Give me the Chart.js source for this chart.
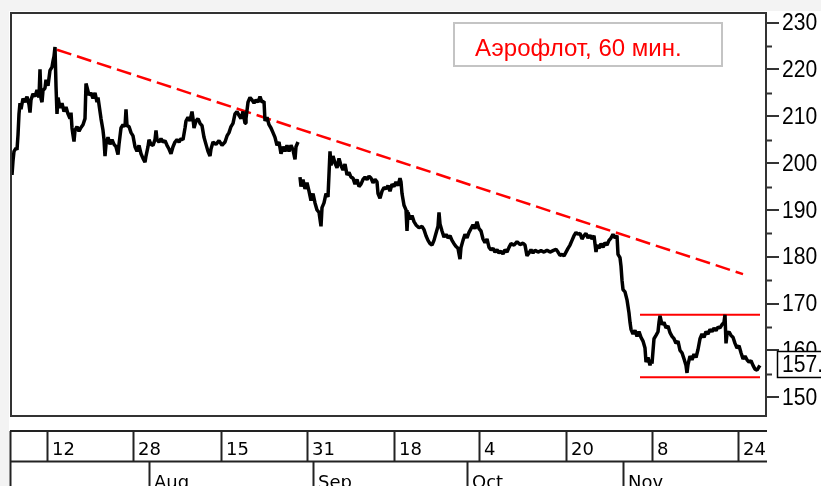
<!DOCTYPE html>
<html>
<head>
<meta charset="utf-8">
<title>Аэрофлот, 60 мин.</title>
<script src="https://cdn.jsdelivr.net/npm/chart.js@4.4.1/dist/chart.umd.min.js"></script>
<style>
  html, body { margin: 0; padding: 0; background: #fff; }
  #wrap { position: relative; width: 821px; height: 486px; }
</style>
</head>
<body>
<div id="wrap"><canvas id="chart" width="821" height="486"></canvas></div>
<script>
const chartTitle = "Аэрофлот, 60 мин.";

// [bar index, price]; null marks the gap in the bars
const priceBars = [
  [0, 198.5], [1, 197.5], [2, 200.5], [3, 202.5], [5, 203.2], [6, 202.8], [7, 206.0], [8, 210.5],
  [9, 212.8], [10, 211.5], [12, 213.8], [14, 213.0], [16, 214.2], [18, 212.5], [19, 210.8], [20, 213.5],
  [22, 214.8], [24, 214.2], [26, 215.6], [28, 214.0], [29, 220.0], [30, 213.8], [31, 213.0], [32, 215.5],
  [34, 216.0], [35, 217.8], [37, 216.5], [39, 219.8], [41, 220.5], [42, 221.8], [43, 222.8], [44, 224.8],
  [45, 216.5], [46, 210.5], [47, 214.0], [49, 211.8], [51, 212.8], [53, 211.0], [55, 212.0], [57, 210.5],
  [59, 209.5], [60, 210.8], [61, 207.5], [62, 206.0], [63, 204.6], [64, 207.0], [66, 207.8], [68, 206.8],
  [70, 207.6], [72, 208.2], [74, 209.5], [75, 217.0], [76, 216.2], [78, 214.5], [80, 215.0], [82, 213.8],
  [84, 215.0], [86, 213.0], [87, 214.0], [89, 211.0], [90, 209.5], [92, 207.0], [93, 205.0], [94, 201.5],
  [95, 204.0], [97, 205.5], [99, 204.0], [101, 205.0], [103, 204.0], [105, 203.5], [107, 201.8], [108, 204.0],
  [110, 207.5], [112, 208.2], [114, 207.8], [115, 211.5], [116, 208.0], [118, 207.8], [120, 206.5], [122, 205.8],
  [124, 203.5], [126, 202.5], [128, 203.8], [130, 202.0], [132, 201.0], [134, 200.2], [135, 201.5], [137, 203.5],
  [138, 205.0], [140, 204.0], [142, 203.8], [144, 205.0], [145, 207.0], [146, 205.0], [148, 204.5], [150, 205.2],
  [152, 204.5], [154, 204.8], [156, 203.8], [158, 203.0], [160, 202.0], [162, 203.5], [164, 204.5], [166, 205.0],
  [168, 204.5], [170, 205.2], [172, 205.0], [174, 207.5], [175, 209.0], [177, 209.8], [179, 209.0], [181, 211.0],
  [182, 209.5], [183, 207.5], [185, 209.0], [187, 209.5], [189, 208.5], [191, 208.0], [193, 205.5], [195, 204.0],
  [197, 202.5], [199, 201.5], [200, 203.0], [202, 204.5], [205, 204.0], [208, 204.8], [211, 203.8], [214, 204.5],
  [216, 205.8], [218, 206.5], [220, 207.8], [222, 208.5], [224, 210.5], [226, 211.0], [228, 210.2], [230, 209.5],
  [232, 211.0], [234, 208.5], [235, 209.5], [237, 213.0], [239, 214.0], [241, 213.5], [243, 212.8], [245, 213.5],
  [247, 213.0], [249, 214.2], [251, 213.0], [253, 213.2], [254, 209.0], [256, 209.8], [258, 208.2], [260, 207.5],
  [262, 206.5], [264, 205.5], [266, 203.8], [268, 204.5], [270, 202.0], [272, 203.5], [274, 202.5], [276, 203.8],
  [278, 202.5], [280, 203.8], [282, 202.8], [284, 200.8], [285, 203.5], [287, 204.5], [288, null],
  [289, 197.0], [290, 195.0], [292, 196.5], [294, 194.5], [296, 195.8], [298, 194.0], [300, 192.0], [302, 193.5],
  [304, 191.5], [306, 190.0], [308, 189.5], [310, 186.5], [311, 190.5], [313, 191.5], [315, 193.5], [317, 192.8],
  [319, 202.5], [320, 199.5], [322, 201.5], [324, 200.0], [326, 199.0], [328, 201.0], [330, 199.5], [332, 198.5],
  [334, 199.8], [336, 197.5], [338, 198.0], [340, 197.0], [342, 196.8], [344, 195.5], [346, 196.5], [348, 195.0],
  [350, 195.5], [352, 196.5], [354, 197.0], [356, 196.5], [358, 197.2], [360, 196.8], [362, 195.8], [364, 196.5],
  [366, 196.0], [367, 193.5], [369, 192.5], [371, 194.0], [373, 194.8], [375, 194.5], [377, 195.2], [379, 194.0],
  [381, 195.5], [383, 195.0], [385, 196.0], [387, 195.2], [389, 196.8], [390, 196.0], [391, 193.5], [393, 191.0],
  [395, 190.0], [396, 185.5], [397, 189.5], [399, 188.0], [401, 188.8], [403, 187.5], [405, 186.8], [408, 186.2],
  [411, 186.5], [413, 185.8], [415, 184.5], [417, 183.5], [419, 182.8], [421, 182.5], [423, 183.5], [425, 185.0],
  [427, 186.5], [428, 189.5], [429, 187.0], [431, 185.5], [433, 184.2], [435, 184.8], [437, 184.0], [439, 184.5],
  [441, 183.5], [443, 182.8], [445, 182.2], [447, 181.8], [449, 179.5], [450, 182.0], [452, 183.5], [454, 184.8],
  [456, 184.0], [458, 185.2], [460, 186.0], [462, 186.8], [464, 186.0], [466, 187.5], [468, 186.0], [470, 185.5],
  [472, 183.8], [474, 183.0], [476, 183.8], [478, 182.0], [480, 181.5], [482, 181.8], [484, 181.0], [486, 181.5],
  [488, 180.8], [490, 181.2], [492, 180.6], [494, 181.5], [496, 181.0], [498, 182.0], [500, 182.8], [503, 182.5],
  [506, 183.2], [509, 182.6], [512, 182.9], [514, 182.5], [516, 180.2], [518, 180.8], [520, 181.5], [522, 180.8],
  [524, 181.4], [527, 181.0], [530, 181.3], [533, 181.0], [536, 181.4], [539, 181.0], [542, 181.3], [545, 181.6],
  [547, 181.0], [549, 180.3], [551, 180.5], [553, 180.2], [555, 181.0], [557, 181.8], [559, 182.5], [561, 183.5],
  [563, 184.5], [565, 185.2], [567, 184.8], [569, 185.0], [571, 183.8], [573, 184.5], [575, 185.0], [577, 184.0],
  [579, 184.6], [581, 183.8], [583, 184.5], [585, 181.0], [586, 182.5], [588, 181.8], [590, 182.8], [592, 182.0],
  [594, 183.0], [596, 182.5], [598, 183.5], [600, 184.0], [602, 184.8], [604, 184.0], [606, 184.5], [607, 180.5],
  [609, 179.8], [610, 178.0], [611, 175.0], [612, 173.0], [614, 172.5], [616, 170.8], [618, 168.0], [619, 166.0],
  [620, 164.5], [622, 163.5], [624, 164.3], [626, 163.0], [628, 164.0], [630, 162.8], [632, 162.0], [634, 160.5],
  [635, 157.5], [637, 158.5], [639, 156.8], [640, 158.0], [641, 157.2], [643, 162.5], [645, 163.2], [647, 164.0],
  [648, 166.0], [649, 167.4], [651, 165.5], [653, 166.0], [655, 164.8], [657, 165.2], [659, 163.8], [661, 163.0],
  [663, 162.5], [665, 161.5], [667, 162.0], [669, 160.0], [671, 159.5], [673, 158.2], [675, 156.8], [676, 155.2],
  [677, 157.0], [679, 158.8], [681, 158.0], [683, 159.2], [685, 158.5], [687, 160.2], [689, 162.5], [691, 163.5],
  [693, 162.8], [695, 164.0], [697, 163.5], [699, 164.5], [701, 164.0], [703, 164.8], [705, 164.2], [707, 165.0],
  [709, 164.8], [711, 165.5], [713, 166.0], [714, 167.6], [715, 161.5], [716, 163.5], [718, 164.0], [720, 163.2],
  [722, 162.8], [724, 161.5], [726, 160.5], [728, 161.0], [730, 159.5], [732, 158.2], [734, 158.8], [736, 158.0],
  [738, 157.5], [740, 157.8], [742, 156.8], [744, 156.0], [746, 155.8], [748, 156.5], [749, 156.8]
];

const trendLine = [[46, 224.2], [732, 176.3]];
const rangeX = [629, 749];
const rangeTop = 167.6;
const rangeBottom = 154.3;
const lastPrice = 157.0;

const dateLabels = ["12", "28", "15", "31", "18", "4", "20", "8", "24"];
const dateBreaks = [36, 122, 210, 296, 383, 468, 555, 641, 727];
const monthLabels = ["Aug", "Sep", "Oct", "Nov"];
const monthBreaks = [138, 302, 456, 612];

const toPoints = (pairs) => pairs.map(([x, y]) => ({ x: x, y: y }));

const axisFont = "24px 'Liberation Sans', Arial, sans-serif";

// narrow text like the original axis font
function narrowText(ctx, text, x, y) {
  ctx.save();
  ctx.translate(x, y);
  ctx.scale(0.88, 1);
  ctx.fillText(text, 0, 0);
  ctx.restore();
}

const chartDecor = {
  id: "chartDecor",
  beforeDraw(chart) {
    const ctx = chart.ctx;
    ctx.save();
    ctx.fillStyle = "#fff";
    ctx.fillRect(0, 0, chart.width, chart.height);
    ctx.fillStyle = "#f3f3f3";
    ctx.fillRect(0, 0, chart.width, 11);
    ctx.fillRect(0, 0, 9, chart.height);
    ctx.restore();
  },
  afterDraw(chart) {
    const ctx = chart.ctx;
    const area = chart.chartArea;
    const xs = chart.scales.x;
    const ys = chart.scales.y;
    ctx.save();

    // frame round the plot
    ctx.strokeStyle = "#333";
    ctx.lineWidth = 2;
    ctx.beginPath();
    ctx.moveTo(area.right, area.top);
    ctx.lineTo(area.left, area.top);
    ctx.lineTo(area.left, area.bottom);
    ctx.lineTo(area.right, area.bottom);
    ctx.stroke();

    // minor ticks between the labelled ones
    ctx.beginPath();
    for (let v = 155; v < ys.max; v += 10) {
      const y = Math.round(ys.getPixelForValue(v)) + 0.5;
      ctx.moveTo(area.right, y);
      ctx.lineTo(area.right + 6, y);
    }
    ctx.stroke();

    // y tick labels
    ctx.fillStyle = "#000";
    ctx.font = axisFont;
    ctx.textBaseline = "middle";
    ys.ticks.forEach((t) => {
      narrowText(ctx, String(t.value), area.right + 16, ys.getPixelForValue(t.value) + 1);
    });

    // date panel under the chart
    ctx.save();
    ctx.beginPath();
    ctx.rect(0, 420, 767, 66);
    ctx.clip();
    ctx.strokeStyle = "#222";
    ctx.lineWidth = 2;
    ctx.beginPath();
    ctx.moveTo(10, 431); ctx.lineTo(800, 431);
    ctx.moveTo(10, 461.5); ctx.lineTo(800, 461.5);
    ctx.moveTo(10.5, 431); ctx.lineTo(10.5, 486);
    dateBreaks.forEach((b) => {
      const x = Math.round(xs.getPixelForValue(b)) + 0.5;
      ctx.moveTo(x, 431); ctx.lineTo(x, 461.5);
    });
    monthBreaks.forEach((b) => {
      const x = Math.round(xs.getPixelForValue(b)) + 0.5;
      ctx.moveTo(x, 461.5); ctx.lineTo(x, 486);
    });
    ctx.stroke();
    ctx.fillStyle = "#000";
    ctx.font = "18px 'DejaVu Sans'";
    ctx.textBaseline = "alphabetic";
    dateLabels.forEach((t, i) => {
      ctx.fillText(t, xs.getPixelForValue(dateBreaks[i]) + 5, 455);
    });
    monthLabels.forEach((t, i) => {
      ctx.fillText(t, xs.getPixelForValue(monthBreaks[i]) + 5, 488);
    });
    ctx.restore();

    // title box
    ctx.fillStyle = "#fff";
    ctx.fillRect(453, 22, 270, 45);
    ctx.strokeStyle = "#c4c4c4";
    ctx.lineWidth = 2;
    ctx.strokeRect(454, 23, 268, 43);
    ctx.fillStyle = "#ff0000";
    ctx.font = "24px 'Liberation Sans', Arial, sans-serif";
    ctx.textBaseline = "alphabetic";
    ctx.fillText(chartTitle, 475, 56);

    // last price box on the axis
    const py = ys.getPixelForValue(lastPrice);
    ctx.fillStyle = "#fff";
    ctx.fillRect(777, py - 13, 60, 26);
    ctx.strokeStyle = "#000";
    ctx.lineWidth = 1.5;
    ctx.strokeRect(777.5, py - 13, 60, 26);
    ctx.fillStyle = "#000";
    ctx.font = axisFont;
    ctx.textBaseline = "middle";
    narrowText(ctx, lastPrice.toFixed(1), 782, py + 1);

    ctx.restore();
  }
};

new Chart(document.getElementById("chart"), {
  type: "line",
  data: {
    datasets: [
      {
        label: "Price",
        data: toPoints(priceBars),
        borderColor: "#000",
        borderWidth: 3.5,
        borderJoinStyle: "bevel",
        pointRadius: 0,
        tension: 0,
        spanGaps: false
      },
      {
        label: "Trend",
        data: toPoints(trendLine),
        borderColor: "#ff0000",
        borderWidth: 2.5,
        borderDash: [15, 6],
        pointRadius: 0
      },
      {
        label: "Top",
        data: toPoints(rangeX.map((x) => [x, rangeTop])),
        borderColor: "#ff0000",
        borderWidth: 2,
        pointRadius: 0
      },
      {
        label: "Bottom",
        data: toPoints(rangeX.map((x) => [x, rangeBottom])),
        borderColor: "#ff0000",
        borderWidth: 2,
        pointRadius: 0
      }
    ]
  },
  options: {
    responsive: false,
    animation: false,
    layout: { padding: { left: 11, top: 13, right: 0, bottom: 70 } },
    plugins: {
      legend: { display: false },
      tooltip: { enabled: false }
    },
    scales: {
      x: { type: "linear", min: 0, max: 755, display: false },
      y: {
        position: "right",
        min: 146.0,
        max: 232.05,
        afterFit(scale) {
          scale.width = 55;
          scale.paddingTop = 0;
          scale.paddingBottom = 0;
        },
        border: { display: true, color: "#333", width: 2 },
        grid: { drawOnChartArea: false, drawTicks: true, tickLength: 13, color: "#333", lineWidth: 2 },
        ticks: { stepSize: 10, includeBounds: false, display: false }
      }
    }
  },
  plugins: [chartDecor]
});
</script>
</body>
</html>
